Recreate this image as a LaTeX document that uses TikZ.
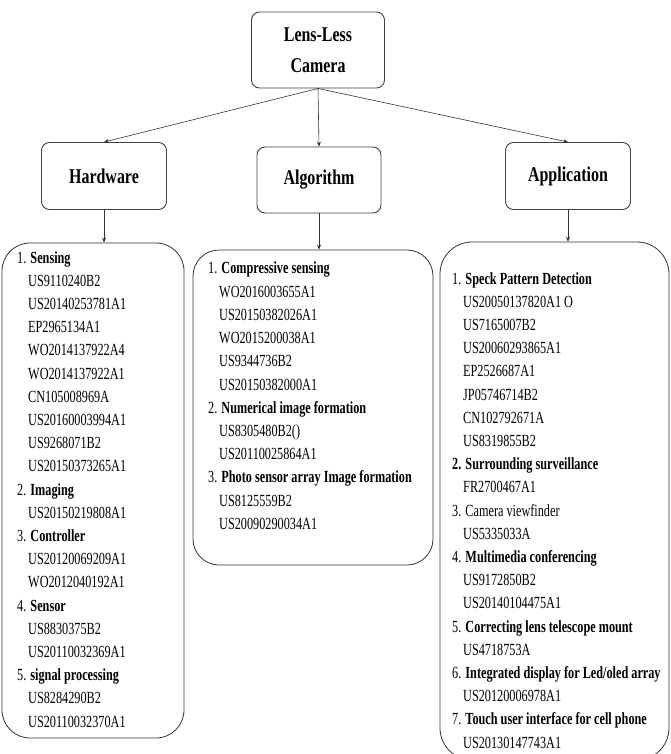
\documentclass[tikz,border=0pt]{standalone}
\usepackage{fontspec}
\setmainfont{Liberation Serif}
\newfontfamily\listfont[FakeStretch=0.72]{Liberation Serif}
\newfontfamily\headfont[FakeStretch=0.76]{Liberation Serif}
\usetikzlibrary{arrows.meta, positioning}

\newcommand{\pat}[1]{\hspace*{11pt}#1}

\begin{document}
\begin{tikzpicture}[
    x=1pt, y=-1pt,
    headbox/.style={rectangle, draw=black!75, line width=0.9pt, rounded corners=8pt, align=center, font=\headfont\bfseries\fontsize{21}{31}\selectfont},
    listbox/.style={rectangle, draw=black!80, line width=0.8pt, inner sep=0pt},
    listtext/.style={anchor=north west, inner sep=0pt, align=left, font=\listfont\fontsize{17}{23.2}\selectfont},
    arrow/.style={-{Stealth[length=5pt, width=4pt]}, line width=0.6pt, black!80},
]
\useasboundingbox (0,0) rectangle (671,754);
\clip (0,0) rectangle (671,754);

% Top
\node[headbox, minimum width=133pt, minimum height=76pt] (camera) at (318,50) {Lens-Less\\Camera};

% Three branches
\node[headbox, minimum width=125pt, minimum height=67pt] (hw) at (104,176) {Hardware};
\node[headbox, minimum width=124pt, minimum height=66pt] (alg) at (319,180) {Algorithm};
\node[headbox, minimum width=125pt, minimum height=67pt] (app) at (568,176) {Application};

% Lists
\node[listbox, rounded corners=28pt, minimum width=182pt, minimum height=495pt] (hwlist) at (93,490.5) {};
\node[listbox, rounded corners=26pt, minimum width=240pt, minimum height=315pt] (alglist) at (313,407.5) {};
\node[listbox, rounded corners=32pt, minimum width=229pt, minimum height=518pt] (applist) at (554.5,501) {};

\node[listtext] (hwtext) at (17,251) {1. \textbf{Sensing}\\
\pat{US9110240B2}\\
\pat{US20140253781A1}\\
\pat{EP2965134A1}\\
\pat{WO2014137922A4}\\
\pat{WO2014137922A1}\\
\pat{CN105008969A}\\
\pat{US20160003994A1}\\
\pat{US9268071B2}\\
\pat{US20150373265A1}\\
2. \textbf{Imaging}\\
\pat{US20150219808A1}\\
3. \textbf{Controller}\\
\pat{US20120069209A1}\\
\pat{WO2012040192A1}\\
4. \textbf{Sensor}\\
\pat{US8830375B2}\\
\pat{US20110032369A1}\\
5. \textbf{signal processing}\\
\pat{US8284290B2}\\
\pat{US20110032370A1}};

\node[listtext] (algtext) at (208,262) {1. \textbf{Compressive sensing}\\
\pat{WO2016003655A1}\\
\pat{US20150382026A1}\\
\pat{WO2015200038A1}\\
\pat{US9344736B2}\\
\pat{US20150382000A1}\\
2. \textbf{Numerical image formation}\\
\pat{US8305480B2()}\\
\pat{US20110025864A1}\\
3. \textbf{Photo sensor array Image formation}\\
\pat{US8125559B2}\\
\pat{US20090290034A1}};

\node[listtext] (apptext) at (452,272) {1. \textbf{Speck Pattern Detection}\\
\pat{US20050137820A1 O}\\
\pat{US7165007B2}\\
\pat{US20060293865A1}\\
\pat{EP2526687A1}\\
\pat{JP05746714B2}\\
\pat{CN102792671A}\\
\pat{US8319855B2}\\
\textbf{2. Surrounding surveillance}\\
\pat{FR2700467A1}\\
3. Camera viewfinder\\
\pat{US5335033A}\\
4. \textbf{Multimedia conferencing}\\
\pat{US9172850B2}\\
\pat{US20140104475A1}\\
5. \textbf{Correcting lens telescope mount}\\
\pat{US4718753A}\\
6. \textbf{Integrated display for Led/oled array}\\
\pat{US20120006978A1}\\
7. \textbf{Touch user interface for cell phone}\\
\pat{US20130147743A1}};

% Arrows
\draw[arrow] (camera.south) -- (hw.north);
\draw[arrow] (camera.south) -- (alg.north);
\draw[arrow] (camera.south) -- (app.north);

\draw[arrow] (hw.south) -- (hw.south |- hwlist.north);
\draw[arrow] (alg.south) -- (alg.south |- alglist.north);
\draw[arrow] (app.south) -- (app.south |- applist.north);

\end{tikzpicture}
\end{document}
